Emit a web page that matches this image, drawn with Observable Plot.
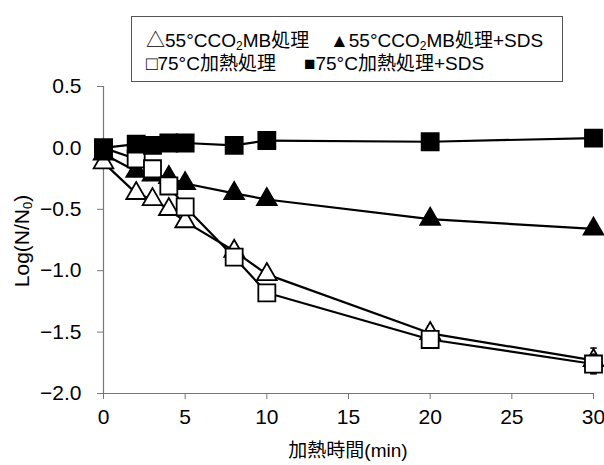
<!DOCTYPE html>
<html><head><meta charset="utf-8">
<script src="https://cdn.jsdelivr.net/npm/d3@7"></script>
<script src="https://cdn.jsdelivr.net/npm/@observablehq/plot@0.6"></script>
<style>
body{margin:0;background:#fff;}
#wrap{position:relative;width:604px;height:465px;font-family:"Liberation Sans","Noto Sans CJK JP",sans-serif;}
#legend{position:absolute;left:131px;top:16px;width:432px;height:66px;border:1.5px solid #555;box-sizing:border-box;background:#fff;font-size:19px;color:#000;}
.li{position:absolute;white-space:nowrap;line-height:1;}
.li sub{font-size:12px;vertical-align:-3px;line-height:0;}
.ttl{position:absolute;white-space:nowrap;line-height:1;font-size:19px;color:#000;}
.ttl sub{font-size:13px;vertical-align:-3px;line-height:0;}
#ytitle{font-size:21px;}
</style></head><body><div id="wrap"><div id="legend"></div>
<div id="xtitle" class="ttl"></div><div id="ytitle" class="ttl"></div></div>
<script>
// data
const times = [0, 2, 3, 4, 5, 8, 10, 20, 30];
const co2mb     = [-0.12, -0.37, -0.42, -0.50, -0.60, -0.84, -1.03, -1.51, -1.73];
const co2mbSDS  = [-0.05, -0.19, -0.22, -0.24, -0.29, -0.37, -0.42, -0.58, -0.66];
const heat75    = [0.00, -0.09, -0.17, -0.31, -0.48, -0.89, -1.18, -1.56, -1.76];
const heat75SDS = [0.00, 0.03, 0.02, 0.04, 0.04, 0.02, 0.06, 0.05, 0.08];
const errSeries = [0, 0, 2];
const errTime = [20, 30, 30];
const errVal = [0.06, 0.10, 0.08];
const yTicks = [0.5, 0.0, -0.5, -1.0, -1.5, -2.0];
const xTicks = [0, 5, 10, 15, 20, 25, 30];
const legendMarks = ["△", "▲", "□", "■"];
const legendLabels = ["55°CCO<sub>2</sub>MB処理", "55°CCO<sub>2</sub>MB処理+SDS", "75°C加熱処理", "75°C加熱処理+SDS"];
const xTitle = "加熱時間(min)";
const yTitle = "Log(N/N<sub>0</sub>)";

const values = [co2mb, co2mbSDS, heat75, heat75SDS];
const rows = values.flatMap((vals, s) => vals.map((v, i) => ({s, t: times[i], v})));
const errRows = errSeries.map((s, i) => {
  const v = values[s][times.indexOf(errTime[i])];
  return {s, t: errTime[i], lo: v - errVal[i], hi: v + errVal[i]};
});
const styles = [
  {symbol: "triangle", fill: "white", r: 7.3},
  {symbol: "triangle", fill: "black", r: 7.3},
  {symbol: "square", fill: "white", r: 9.6},
  {symbol: "square", fill: "black", r: 9.6}
];
const drawOrder = [0, 1, 2, 3];
const font = '"Liberation Sans","Noto Sans CJK JP",sans-serif';

const marks = [
  Plot.ruleY([-2], {stroke: "#777", strokeWidth: 1.2}),
  Plot.ruleX([0], {stroke: "#777", strokeWidth: 1.2}),
  Plot.axisX({ticks: xTicks, tickSize: 6, tickPadding: 10, stroke: "#777", fill: "black", fontSize: 21,
    label: null, tickFormat: d3.format("d")}),
  Plot.axisY({ticks: yTicks, tickSize: 6, tickPadding: 16, stroke: "#777", fill: "black", fontSize: 21,
    label: null, tickFormat: d3.format(".1f")}),
  Plot.line(rows, {x: "t", y: "v", z: "s", stroke: "black", strokeWidth: 2.2})
];
for (const s of drawOrder) {
  const st = styles[s];
  const sub = rows.filter(d => d.s === s);
  const er = errRows.filter(d => d.s === s);
  if (er.length) {
    marks.push(Plot.ruleX(er, {x: "t", y1: "lo", y2: "hi", stroke: "black", strokeWidth: 1.5}));
    marks.push(Plot.link(er, {x1: d => d.t - 0.2, x2: d => d.t + 0.2, y1: "hi", y2: "hi", stroke: "black", strokeWidth: 1.5}));
    marks.push(Plot.link(er, {x1: d => d.t - 0.2, x2: d => d.t + 0.2, y1: "lo", y2: "lo", stroke: "black", strokeWidth: 1.5}));
  }
  marks.push(Plot.dot(sub, {x: "t", y: "v", symbol: () => st.symbol, r: st.r, fill: st.fill, stroke: "black", strokeWidth: 1.8}));
}

const chart = Plot.plot({
  width: 604, height: 465,
  marginLeft: 103, marginRight: 11, marginTop: 86, marginBottom: 72,
  x: {domain: [0, 30]},
  y: {domain: [-2, 0.5]},
  symbol: {type: "identity"},
  style: {fontFamily: font, fontSize: "21px", background: "white", color: "black", overflow: "visible"},
  marks
});
const wrap = document.getElementById("wrap");
wrap.insertBefore(chart, wrap.firstChild);

const legend = document.getElementById("legend");
const pos = [[14, 14], [198, 14], [14, 37], [172, 37]];
legendLabels.forEach((lab, i) => {
  const d = document.createElement("div");
  d.className = "li";
  d.style.left = pos[i][0] + "px";
  d.style.top = pos[i][1] + "px";
  d.innerHTML = legendMarks[i] + lab;
  legend.appendChild(d);
});

const xt = document.getElementById("xtitle");
xt.textContent = xTitle;
xt.style.left = "348px"; xt.style.top = "450px";
xt.style.transform = "translate(-50%,-50%)";
const yt = document.getElementById("ytitle");
yt.innerHTML = yTitle;
yt.style.left = "21px"; yt.style.top = "241px";
yt.style.transform = "translate(-50%,-50%) rotate(-90deg)";
</script></body></html>
